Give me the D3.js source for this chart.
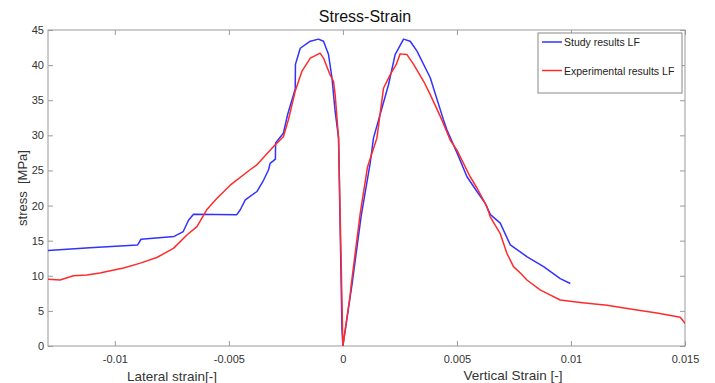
<!DOCTYPE html>
<html>
<head>
<meta charset="utf-8">
<script src="https://cdn.jsdelivr.net/npm/d3@7"></script>
<style>
  body { margin: 0; background: #fff; }
  svg text { font-family: Arial, "Liberation Sans", sans-serif; }
</style>
</head>
<body>
<svg id="chart" width="715" height="383"></svg>
<script>
// stress-strain data, [strain, stress MPa]
var studyLateral = [
  [-0.0130, 13.6], [-0.0111, 14.0], [-0.0090, 14.4], [-0.00885, 15.2], [-0.0074, 15.6],
  [-0.0070, 16.3], [-0.00677, 17.9], [-0.00655, 18.75], [-0.00465, 18.7], [-0.0045, 19.4],
  [-0.00428, 20.8], [-0.00377, 22.0], [-0.00348, 23.6], [-0.00326, 25.1], [-0.00319, 26.0],
  [-0.00296, 26.6], [-0.00295, 28.9], [-0.00261, 30.3], [-0.00242, 33.0], [-0.00209, 36.6],
  [-0.00208, 40.1], [-0.00187, 42.4], [-0.00143, 43.4], [-0.00107, 43.7], [-0.00085, 43.4],
  [-0.00063, 41.5], [-0.00048, 38.2], [-0.00034, 33.4], [-0.00019, 29.6], [-0.00004, 2.3],
  [0, 0]
];
var studyVertical = [
  [0, 0], [0.00041, 9.0], [0.0008, 18.5], [0.0012, 26.1], [0.00134, 29.6], [0.002, 37.2],
  [0.00229, 41.5], [0.00266, 43.7], [0.00295, 43.4], [0.00325, 42.0], [0.00383, 38.2],
  [0.00441, 32.2], [0.00456, 30.8], [0.00507, 27.0], [0.00544, 24.1], [0.00588, 22.0],
  [0.00624, 20.3], [0.00647, 18.7], [0.0069, 17.5], [0.00734, 14.4], [0.00808, 12.7],
  [0.0088, 11.3], [0.00953, 9.6], [0.00997, 8.9]
];
var expLateral = [
  [-0.0130, 9.5], [-0.0124, 9.4], [-0.01182, 10.0], [-0.01123, 10.1], [-0.01065, 10.4],
  [-0.01035, 10.6], [-0.00962, 11.1], [-0.00888, 11.8], [-0.00816, 12.6], [-0.00743, 13.9],
  [-0.00684, 15.8], [-0.0064, 17.0], [-0.00597, 19.4], [-0.00553, 21.0], [-0.00494, 22.9],
  [-0.00407, 25.1], [-0.00377, 25.8], [-0.00304, 28.4], [-0.00261, 29.8], [-0.00239, 32.2],
  [-0.00209, 36.3], [-0.0018, 39.1], [-0.00143, 41.0], [-0.001, 41.7], [-0.00085, 41.0],
  [-0.00056, 38.6], [-0.00041, 37.7], [-0.00034, 35.8], [-0.00019, 29.6], [0, 0]
];
var expVertical = [
  [0, 0], [0.00032, 7.3], [0.00036, 8.6], [0.00076, 18.9], [0.00108, 25.5], [0.00149, 29.6],
  [0.00178, 36.7], [0.00207, 38.6], [0.00234, 40.1], [0.00251, 41.6], [0.00281, 41.5],
  [0.0031, 40.1], [0.00354, 37.7], [0.00383, 35.8], [0.00434, 32.2], [0.00471, 29.3],
  [0.005, 27.9], [0.00558, 24.1], [0.00588, 22.5], [0.00632, 19.8], [0.00646, 18.4],
  [0.0069, 16.0], [0.00719, 13.2], [0.00748, 11.3], [0.00778, 10.4], [0.00807, 9.4],
  [0.00865, 8.0], [0.00895, 7.5], [0.00953, 6.55], [0.01041, 6.2], [0.01158, 5.8],
  [0.01275, 5.2], [0.01377, 4.7], [0.01479, 4.1], [0.01501, 3.2]
];
var xTicks = [-0.01, -0.005, 0, 0.005, 0.01, 0.015];
var yTicks = [0, 5, 10, 15, 20, 25, 30, 35, 40, 45];
var seriesNames = ['Study results LF', 'Experimental results LF'];
var seriesColors = ['#3232ff', '#ff2b2b'];

var svg = d3.select('#chart');
var margin = {top: 30, right: 30, bottom: 37, left: 48},
    width = 715 - margin.left - margin.right,
    height = 383 - margin.top - margin.bottom;

var x = d3.scaleLinear().domain([-0.01293, 0.015]).range([0, width]);
var y = d3.scaleLinear().domain([0, 45]).range([height, 0]);

var g = svg.append('g').attr('transform', 'translate(' + margin.left + ',' + margin.top + ')');

g.append('clipPath').attr('id', 'clip')
  .append('rect').attr('width', width).attr('height', height);

var fmt = function (d) { return d === 0 ? '0' : String(d); };
var axisColor = '#9a9a9a';

function styleAxis(sel, showText) {
  sel.select('.domain').remove();
  sel.selectAll('.tick line').attr('stroke', axisColor);
  sel.selectAll('.tick text').attr('fill', '#333').style('font-size', '11px');
  if (!showText) sel.selectAll('.tick text').remove();
}

g.append('g').attr('transform', 'translate(0,' + height + ')')
  .call(d3.axisBottom(x).tickValues(xTicks).tickFormat(fmt).tickSizeInner(-5).tickSizeOuter(0).tickPadding(9))
  .call(styleAxis, true);
g.append('g')
  .call(d3.axisTop(x).tickValues(xTicks).tickSizeInner(-5).tickSizeOuter(0))
  .call(styleAxis, false);
g.append('g')
  .call(d3.axisLeft(y).tickValues(yTicks).tickSizeInner(-5).tickSizeOuter(0).tickPadding(4))
  .call(styleAxis, true);
g.append('g').attr('transform', 'translate(' + width + ',0)')
  .call(d3.axisRight(y).tickValues(yTicks).tickSizeInner(-5).tickSizeOuter(0))
  .call(styleAxis, false);

g.append('rect')
  .attr('width', width).attr('height', height)
  .attr('fill', 'none').attr('stroke', axisColor).attr('stroke-width', 1);

var line = d3.line()
  .x(function (d) { return x(d[0]); })
  .y(function (d) { return y(d[1]); });

var plot = g.append('g').attr('clip-path', 'url(#clip)');
[studyLateral.concat(studyVertical.slice(1)), expLateral.concat(expVertical.slice(1))].forEach(function (s, i) {
  plot.append('path')
    .datum(s)
    .attr('d', line)
    .attr('fill', 'none')
    .attr('stroke', seriesColors[i])
    .attr('stroke-width', 1.5)
    .attr('stroke-linejoin', 'round');
});

// title and labels
svg.append('text')
  .attr('x', 365).attr('y', 22)
  .attr('text-anchor', 'middle')
  .style('font-size', '16px').attr('fill', '#111')
  .text('Stress-Strain');

svg.append('text')
  .attr('transform', 'translate(27,' + (margin.top + height / 2) + ') rotate(-90)')
  .attr('text-anchor', 'middle')
  .style('font-size', '13px').style('white-space', 'pre').attr('fill', '#333')
  .text('stress  [MPa]');

svg.append('text')
  .attr('x', 172).attr('y', 381)
  .attr('text-anchor', 'middle')
  .style('font-size', '13.5px').attr('fill', '#333')
  .text('Lateral strain[-]');

svg.append('text')
  .attr('x', 513).attr('y', 380)
  .attr('text-anchor', 'middle')
  .style('font-size', '13.5px').attr('fill', '#333')
  .text('Vertical Strain [-]');

// legend
var legend = svg.append('g').attr('transform', 'translate(538,33)');
legend.append('rect')
  .attr('width', 144).attr('height', 60)
  .attr('fill', '#fff').attr('stroke', '#888');
seriesNames.forEach(function (name, i) {
  var ly = 9 + i * 28.5;
  legend.append('line')
    .attr('x1', 4).attr('x2', 24).attr('y1', ly).attr('y2', ly)
    .attr('stroke', seriesColors[i]).attr('stroke-width', 1.5);
  legend.append('text')
    .attr('x', 26).attr('y', ly + 4)
    .style('font-size', '10.5px').attr('fill', '#222')
    .text(name);
});
</script>
</body>
</html>
